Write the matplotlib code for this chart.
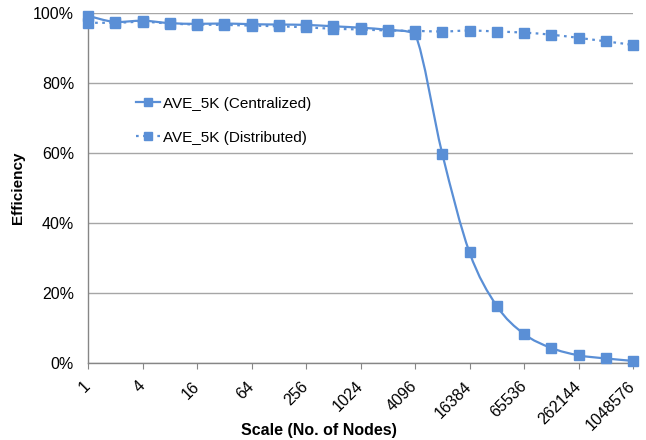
"""Efficiency vs scale: centralized vs distributed AVE_5K."""

import matplotlib

matplotlib.use("Agg")
import matplotlib.pyplot as plt
import numpy as np
from matplotlib.lines import Line2D
from matplotlib.patches import PathPatch
from matplotlib.path import Path

plt.rcParams["font.family"] = ["Liberation Sans", "DejaVu Sans"]

nodes = [1, 2, 4, 8, 16, 32, 64, 128, 256, 512, 1024, 2048, 4096, 8192,
         16384, 32768, 65536, 131072, 262144, 524288, 1048576]
centralized = [99.2, 97.4, 97.8, 97.1, 96.9, 97.0, 96.8, 96.7, 96.6, 96.2,
               95.8, 95.2, 94.1, 59.8, 31.6, 16.3, 8.3, 4.3, 2.2, 1.3, 0.6]
distributed = [97.2, 97.2, 97.5, 97.0, 96.7, 96.6, 96.4, 96.2, 95.9, 95.5,
               95.3, 95.0, 94.9, 94.7, 95.0, 94.7, 94.4, 93.8, 92.9, 91.9, 90.9]
labels = ["AVE_5K (Centralized)", "AVE_5K (Distributed)"]
styles = ["-", (0, (1.2, 2.0))]

BLUE = "#5a8fd6"
GRID = "#a6a6a6"


def smooth_path(x, y):
    # Excel-like smoothed line: Catmull-Rom segments as cubic Bezier,
    # control points kept inside each segment's y range (no overshoot)
    pts = np.column_stack([x, y]).astype(float)
    ext = np.vstack([pts[0], pts, pts[-1]])
    verts = [pts[0]]
    codes = [Path.MOVETO]
    for i in range(len(pts) - 1):
        p0, p1, p2, p3 = ext[i], ext[i + 1], ext[i + 2], ext[i + 3]
        c1 = p1 + (p2 - p0) / 6
        c2 = p2 - (p3 - p1) / 6
        lo, hi = min(p1[1], p2[1]), max(p1[1], p2[1])
        c1[1] = np.clip(c1[1], lo, hi)
        c2[1] = np.clip(c2[1], lo, hi)
        verts += [c1, c2, p2]
        codes += [Path.CURVE4] * 3
    return Path(verts, codes)


fig = plt.figure(figsize=(6.46, 4.40), dpi=100)
ax = fig.add_axes([88 / 646, 1 - 363 / 440, (633 - 88) / 646, 350 / 440])

xpos = np.arange(len(nodes))
handles = []
for vals, ls, lab in zip([centralized, distributed], styles, labels):
    patch = PathPatch(smooth_path(xpos, vals), fill=False, edgecolor=BLUE,
                      lw=1.6, linestyle=ls, clip_on=False, zorder=3)
    ax.add_patch(patch)
    ax.plot(xpos, vals, ls="none", marker="s", markersize=6.8, color=BLUE,
            clip_on=False, zorder=4)
    handles.append(Line2D([], [], color=BLUE, lw=1.6, linestyle=ls,
                          marker="s", markersize=6.0))

ax.set_xlim(0, len(nodes) - 1)
ax.set_ylim(0, 100)
ax.set_yticks([0, 20, 40, 60, 80, 100])
ax.set_yticklabels([f"{v}%" for v in [0, 20, 40, 60, 80, 100]], fontsize=11.5)
ax.set_xticks(xpos[::2])
ax.set_xticklabels([str(n) for n in nodes[::2]], rotation=45, ha="right",
                   va="center", rotation_mode="anchor", fontsize=11.5)
ax.tick_params(axis="y", length=0, pad=10)
ax.tick_params(axis="x", length=4, direction="out", color="#868686", pad=11)

ax.grid(axis="y", color=GRID, lw=1.0)
ax.set_axisbelow(True)
for side in ["top", "right"]:
    ax.spines[side].set_visible(False)
for side in ["left", "bottom"]:
    ax.spines[side].set_color("#868686")
    ax.spines[side].set_linewidth(1.0)

ax.legend(handles, labels, loc="upper left", bbox_to_anchor=(34 / 545, 1 - 70 / 350),
          frameon=False, fontsize=11, handlelength=1.6, handletextpad=0.2,
          labelspacing=1.3, numpoints=1)

fig.text(18 / 646, 1 - 188 / 440, "Efficiency", rotation=90, ha="center",
         va="center", fontsize=11, fontweight="bold")
fig.text(319 / 646, 1 - 430 / 440, "Scale (No. of Nodes)", ha="center",
         va="center", fontsize=11.5, fontweight="bold")

fig.savefig("out.png", dpi=100)
